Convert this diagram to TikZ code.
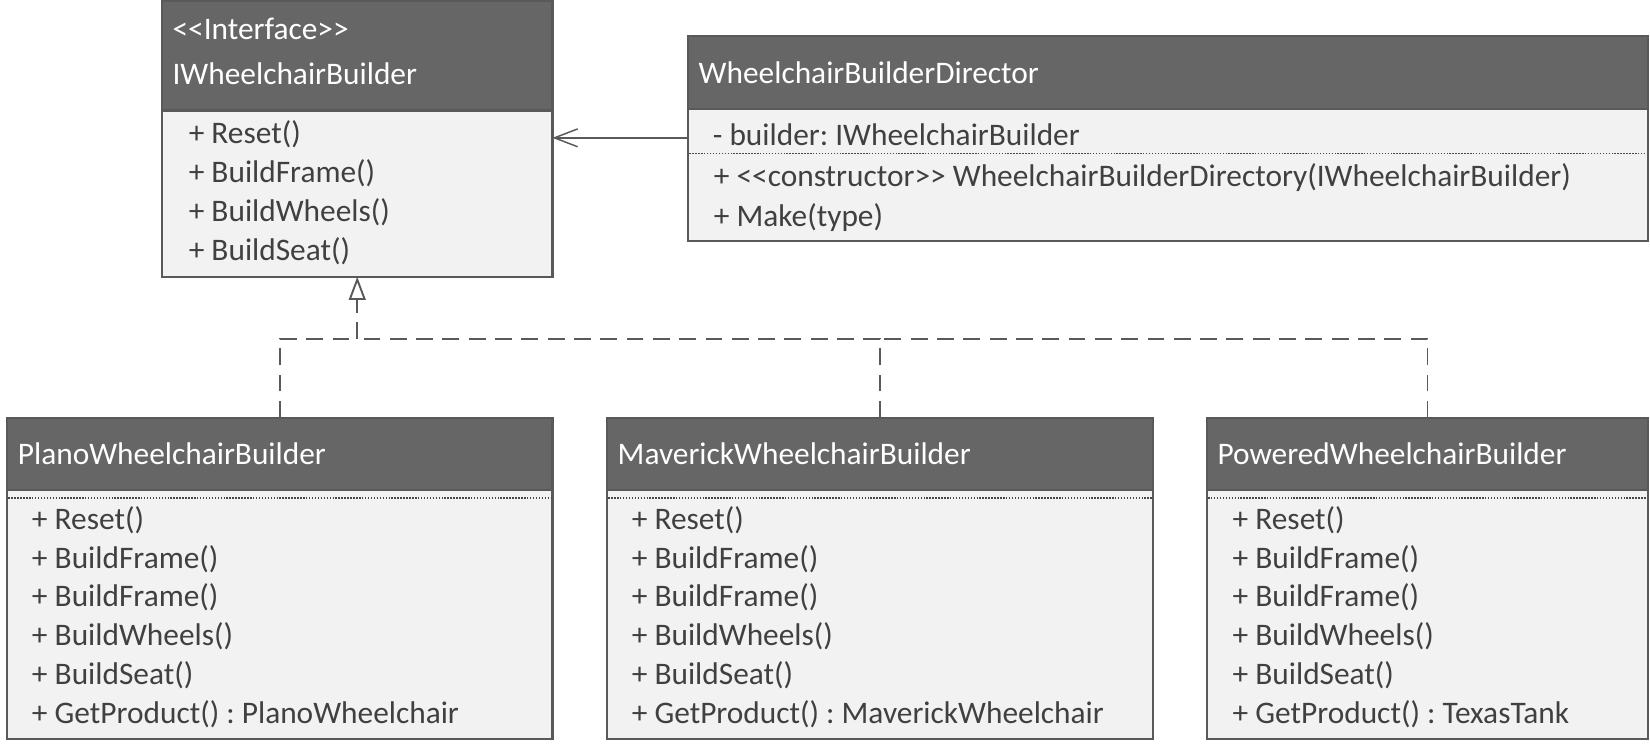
\documentclass[tikz,border=0pt]{standalone}
\usepackage{fontspec}
\setmainfont{Carlito}
\usetikzlibrary{positioning,arrows.meta}
\frenchspacing

\definecolor{headgray}{HTML}{666666}
\definecolor{bodygray}{HTML}{F2F2F2}
\definecolor{linegray}{HTML}{595959}
\definecolor{textgray}{HTML}{404040}
\newcommand{\umlfont}{\fontsize{14.9pt}{18.5pt}\selectfont}

\begin{document}
\begin{tikzpicture}[x=0.5pt,y=-0.5pt,
	box/.style = {draw=linegray, line width=1pt, outer sep=0pt, inner sep=0pt},
	head/.style = {box, fill=headgray, text=white, anchor=north west, inner xsep=5pt,
		text width=#1, align=left, font=\umlfont},
	body/.style = {box, fill=bodygray},
	member/.style = {anchor=west, inner sep=0pt, text=textgray, font=\umlfont},
	sep/.style = {draw=linegray!80!black, line width=0.75pt, dash pattern=on 0.7pt off 0.7pt},
	realize/.style = {draw=linegray, line width=0.9pt, dash pattern=on 8pt off 4.5pt},
	assoc/.style = {draw=linegray, line width=0.7pt, -{Straight Barb[length=11pt,width=8.5pt]}}]
	\useasboundingbox (0,0) rectangle (1568,710);

	% interface
	\node[head=175.5pt, minimum height=52pt] (iface) at (154,1) {<{}<Interface>{}>\\[3pt]IWheelchairBuilder\par\vspace{4pt}};
	\node[body, minimum width=185.5pt, minimum height=79pt, below=0pt of iface] (ifaceb) {};
	\foreach \m [count=\i from 0] in {+ Reset(), + BuildFrame(), + BuildWheels(), + BuildSeat()}
		\node[member] (ifaceb-\i) at (179,128+37*\i) {\m};

	% director
	\node[head=446pt, minimum height=35pt] (dir) at (654,34) {WheelchairBuilderDirector};
	\node[body, minimum width=456pt, minimum height=62.5pt, below=0pt of dir] (dirb) {};
	\node[member] (dirb-0) at (677,128) {- builder: IWheelchairBuilder};
	\draw[sep] ([yshift=-21pt,xshift=0.5pt]dirb.north west) -- ([yshift=-21pt,xshift=-0.5pt]dirb.north east);
	\node[member] (dirb-1) at (678,169) {+ <{}<constructor>{}> WheelchairBuilderDirectory(IWheelchairBuilder)};
	\node[member] (dirb-2) at (678,207) {+ Make(type)};

	% concrete builders
	\node[head=249pt, minimum height=34.5pt] (plano) at (7,397) {PlanoWheelchairBuilder};
	\node[body, minimum width=259pt, minimum height=118pt, below=0pt of plano] (planob) {};
	\draw[sep] ([yshift=-3.5pt,xshift=0.5pt]planob.north west) -- ([yshift=-3.5pt,xshift=-0.5pt]planob.north east);
	\foreach \m [count=\i from 0] in {+ Reset(), + BuildFrame(), + BuildFrame(), + BuildWheels(), + BuildSeat(), + GetProduct() : PlanoWheelchair}
		\node[member] (planob-\i) at (30,494+37*\i) {\m};

	\node[head=249.5pt, minimum height=34.5pt] (mav) at (577,397) {MaverickWheelchairBuilder};
	\node[body, minimum width=259.5pt, minimum height=118pt, below=0pt of mav] (mavb) {};
	\draw[sep] ([yshift=-3.5pt,xshift=0.5pt]mavb.north west) -- ([yshift=-3.5pt,xshift=-0.5pt]mavb.north east);
	\foreach \m [count=\i from 0] in {+ Reset(), + BuildFrame(), + BuildFrame(), + BuildWheels(), + BuildSeat(), + GetProduct() : MaverickWheelchair}
		\node[member] (mavb-\i) at (600,494+37*\i) {\m};

	\node[head=199.5pt, minimum height=34.5pt] (pow) at (1147,397) {PoweredWheelchairBuilder};
	\node[body, minimum width=209.5pt, minimum height=118pt, below=0pt of pow] (powb) {};
	\draw[sep] ([yshift=-3.5pt,xshift=0.5pt]powb.north west) -- ([yshift=-3.5pt,xshift=-0.5pt]powb.north east);
	\foreach \m [count=\i from 0] in {+ Reset(), + BuildFrame(), + BuildFrame(), + BuildWheels(), + BuildSeat(), + GetProduct() : TexasTank}
		\node[member] (powb-\i) at (1171,494+37*\i) {\m};

	% connectors
	\coordinate (bus) at (ifaceb.south |- 0,322);
	\draw[realize] (plano.north) |- (bus);
	\draw[realize] (mav.north) |- (bus);
	\draw[realize] (pow.north) |- (mav.north |- bus);
	\draw[realize, -{Triangle[open,length=11pt,width=8pt,fill=white]}] (bus) -- (ifaceb.south);
	\draw[assoc] ([yshift=-13.5pt]dirb.north west) -- ([yshift=-13.5pt]dirb.north west -| ifaceb.east);
\end{tikzpicture}
\end{document}
